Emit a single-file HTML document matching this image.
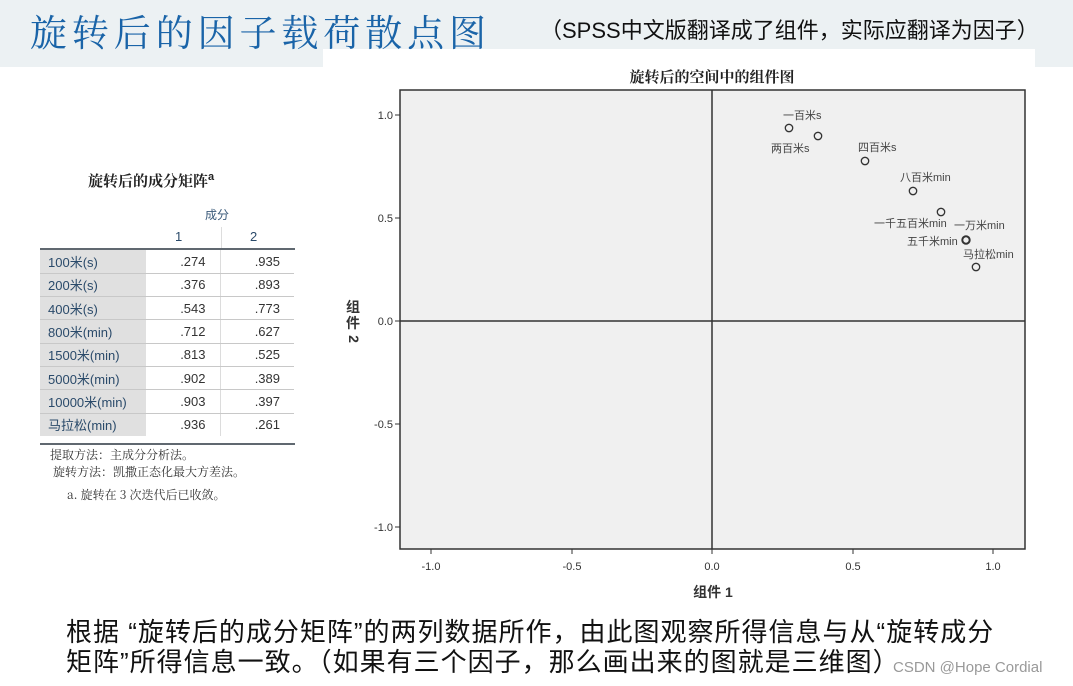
<!DOCTYPE html>
<html><head><meta charset="utf-8"><style>
body{margin:0;width:1073px;height:686px;background:#fff;position:relative;overflow:hidden;font-family:"Liberation Sans","Noto Sans CJK SC",sans-serif}
.a{position:absolute;white-space:nowrap}
table{border-collapse:collapse;position:absolute;left:40px;top:250px;font-size:13px;color:#333}
td{height:23.3px;border-bottom:1px solid #c8c8c8;padding:0}
td.l{width:106px;background:#e0e0e0;color:#2a4a6a;padding-left:8px;box-sizing:border-box}
td.v{width:74px;text-align:right;padding-right:14px;box-sizing:border-box}
td.v2{border-left:1px solid #dcdcdc}
</style></head><body>
<div class="a" style="left:0;top:0;width:1073px;height:67px;background:#ecf1f3"></div>
<div class="a" style="left:323px;top:49px;width:712px;height:18px;background:#fff"></div>
<div class="a" style="left:30px;top:3px;font-family:'Noto Serif CJK SC',serif;font-size:37px;color:#1a64a8;letter-spacing:4.9px">旋转后的因子载荷散点图</div>
<div class="a" style="left:540px;top:13px;font-size:22px;color:#111">（SPSS中文版翻译成了组件，实际应翻译为因子）</div>

<div class="a" style="left:88px;top:170px;font-family:'Noto Serif CJK SC',serif;font-size:15px;font-weight:bold;color:#222">旋转后的成分矩阵<sup style="font-size:11px;font-family:'Liberation Sans'">a</sup></div>
<div class="a" style="left:205px;top:206px;font-size:12px;color:#3a5a7a">成分</div>
<div class="a" style="left:175px;top:229px;font-size:13px;color:#2a4a6a">1</div>
<div class="a" style="left:250px;top:229px;font-size:13px;color:#2a4a6a">2</div>
<div class="a" style="left:221px;top:227px;width:1px;height:23px;background:#ddd"></div>
<div class="a" style="left:40px;top:248px;width:255px;height:2px;background:#606870"></div>
<table>
<tr><td class="l">100米(s)</td><td class="v">.274</td><td class="v v2">.935</td></tr>
<tr><td class="l">200米(s)</td><td class="v">.376</td><td class="v v2">.893</td></tr>
<tr><td class="l">400米(s)</td><td class="v">.543</td><td class="v v2">.773</td></tr>
<tr><td class="l">800米(min)</td><td class="v">.712</td><td class="v v2">.627</td></tr>
<tr><td class="l">1500米(min)</td><td class="v">.813</td><td class="v v2">.525</td></tr>
<tr><td class="l">5000米(min)</td><td class="v">.902</td><td class="v v2">.389</td></tr>
<tr><td class="l">10000米(min)</td><td class="v">.903</td><td class="v v2">.397</td></tr>
<tr><td class="l" style="border-bottom:none">马拉松(min)</td><td class="v" style="border-bottom:none">.936</td><td class="v v2" style="border-bottom:none">.261</td></tr>
</table>
<div class="a" style="left:40px;top:443px;width:255px;height:2px;background:#606870"></div>
<div class="a" style="left:50px;top:446px;font-family:'Noto Serif CJK SC',serif;font-size:12px;color:#333">提取方法：主成分分析法。</div>
<div class="a" style="left:53px;top:463px;font-family:'Noto Serif CJK SC',serif;font-size:12px;color:#333">旋转方法：凯撒正态化最大方差法。</div>
<div class="a" style="left:67px;top:486px;font-family:'Noto Serif CJK SC',serif;font-size:12px;color:#333">a. 旋转在 3 次迭代后已收敛。</div>

<svg class="a" style="left:0;top:0" width="1073" height="686" font-family="Liberation Sans,Noto Sans CJK SC,sans-serif">
<text x="712" y="82" text-anchor="middle" font-family="Noto Serif CJK SC,serif" font-size="15" font-weight="bold" fill="#222">旋转后的空间中的组件图</text>
<rect x="400" y="90" width="625" height="459" fill="#f0f0f0" stroke="#333" stroke-width="1.5"/>
<line x1="712" y1="90" x2="712" y2="549" stroke="#333" stroke-width="1.5"/>
<line x1="400" y1="321" x2="1025" y2="321" stroke="#333" stroke-width="1.5"/>
<g stroke="#333" stroke-width="1">
<line x1="395" y1="115" x2="400" y2="115"/><line x1="395" y1="218" x2="400" y2="218"/><line x1="395" y1="321" x2="400" y2="321"/><line x1="395" y1="424" x2="400" y2="424"/><line x1="395" y1="527" x2="400" y2="527"/>
<line x1="431" y1="549" x2="431" y2="554"/><line x1="572" y1="549" x2="572" y2="554"/><line x1="712" y1="549" x2="712" y2="554"/><line x1="853" y1="549" x2="853" y2="554"/><line x1="993" y1="549" x2="993" y2="554"/>
</g>
<g font-size="11" fill="#333" text-anchor="end">
<text x="393" y="119">1.0</text><text x="393" y="222">0.5</text><text x="393" y="325">0.0</text><text x="393" y="428">-0.5</text><text x="393" y="531">-1.0</text>
</g>
<g font-size="11" fill="#333" text-anchor="middle">
<text x="431" y="570">-1.0</text><text x="572" y="570">-0.5</text><text x="712" y="570">0.0</text><text x="853" y="570">0.5</text><text x="993" y="570">1.0</text>
</g>
<text x="713" y="597" text-anchor="middle" font-size="14" font-weight="bold" fill="#333">组件 1</text>
<text x="353" y="312" text-anchor="middle" font-size="14" font-weight="bold" fill="#333">组</text>
<text x="353" y="328" text-anchor="middle" font-size="14" font-weight="bold" fill="#333">件</text>
<text x="353" y="343" text-anchor="middle" font-size="14" font-weight="bold" fill="#333" transform="rotate(90 353 339)">2</text>
<g fill="none" stroke="#333" stroke-width="1.3">
<circle cx="789" cy="128" r="3.7"/><circle cx="818" cy="136" r="3.7"/><circle cx="865" cy="161" r="3.7"/><circle cx="913" cy="191" r="3.7"/><circle cx="941" cy="212" r="3.7"/><circle cx="966" cy="240" r="3.7" stroke-width="2"/><circle cx="976" cy="267" r="3.7"/>
</g>
<g font-size="11" fill="#444">
<text x="783" y="119">一百米s</text>
<text x="771" y="152">两百米s</text>
<text x="858" y="151">四百米s</text>
<text x="900" y="181">八百米min</text>
<text x="874" y="227">一千五百米min</text>
<text x="954" y="229">一万米min</text>
<text x="907" y="245">五千米min</text>
<text x="963" y="258">马拉松min</text>
</g>
</svg>
<div class="a" style="left:66px;top:617px;font-size:26px;color:#111;line-height:30px;letter-spacing:1px">根据 “旋转后的成分矩阵”的两列数据所作，由此图观察所得信息与从“旋转成分<br>矩阵”所得信息一致。（如果有三个因子，那么画出来的图就是三维图）</div>
<div class="a" style="left:893px;top:659px;font-size:15px;color:#999">CSDN @Hope Cordial</div>
</body></html>
